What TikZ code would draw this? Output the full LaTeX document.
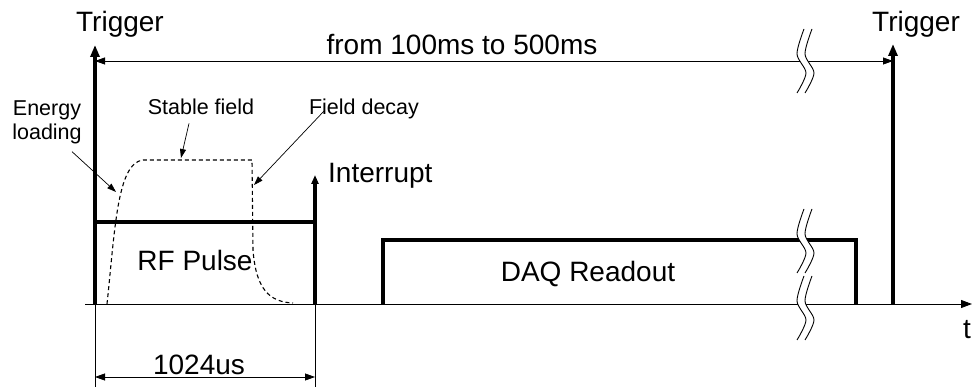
\documentclass[tikz,border=0pt]{standalone}
\usepackage{fontspec}
\setmainfont{Liberation Sans}
\usetikzlibrary{arrows.meta}
\tikzset{
 signal/.style={line width=3.2pt},
 trigger/.style={line width=3.2pt,-{Triangle[length=12pt,width=9pt]}},
 interrupt/.style={line width=3.2pt,-{Triangle[length=9pt,width=7pt]}},
 timeaxis/.style={line width=.9pt,-{Triangle[length=11pt,width=8pt]}},
 span/.style={line width=.8pt,{Triangle[length=10pt,width=7pt]}-{Triangle[length=10pt,width=7pt]}},
 extline/.style={line width=.7pt},
 callout/.style={line width=.7pt,-{Triangle[length=9pt,width=6pt]}},
 field/.style={line width=1.1pt,dash pattern=on 4pt off 3pt},
 bigtext/.style={font=\fontsize{28}{32}\selectfont,inner sep=0,anchor=base},
 smalltext/.style={font=\fontsize{21.5}{24}\selectfont,inner sep=0,anchor=base,align=center},
 breakmark/.pic={
  \draw[white,line width=7pt] plot[smooth] coordinates {(1,-32) (-6,-7) (3,12) (-6,32)};
  \draw[line width=.9pt] plot[smooth] coordinates {(-3,-32) (-10,-7) (-1,12) (-10,32)};
  \draw[line width=.9pt] plot[smooth] coordinates {(5,-32) (-2,-7) (7,12) (-2,32)};
 }
}
\begin{document}
\begin{tikzpicture}[x=1pt,y=-1pt]
\useasboundingbox (0,0) rectangle (972,387);
\coordinate (ax0) at (85,304);
\coordinate (ax1) at (972,304);
\coordinate (trig1) at (95,304);
\coordinate (trig1top) at (95,45);
\coordinate (trig2) at (893,304);
\coordinate (trig2top) at (893,44);
\coordinate (sp1) at (95,61);
\coordinate (sp2) at (893,61);
\coordinate (rf1) at (95,222);
\coordinate (rf2) at (315,222);
\coordinate (rf3) at (315,304);
\coordinate (intrtop) at (315,175);
\coordinate (daq1) at (383,304);
\coordinate (daq2) at (383,240);
\coordinate (daq3) at (856,240);
\coordinate (daq4) at (856,304);
\coordinate (dim1) at (95,377);
\coordinate (dim2) at (315,377);
\coordinate (ext1) at (95,387);
\coordinate (ext2) at (315,387);
\coordinate (loadtip) at (116,192);
\coordinate (stabletip) at (181,158);
\coordinate (decaytip) at (254,185);

\draw[timeaxis] (ax0) -- (ax1);
\draw[trigger] (trig1) -- (trig1top);
\draw[trigger] (trig2) -- (trig2top);
\draw[span] (sp1) -- (sp2);
\draw[signal] (rf1) -- (rf2);
\draw[interrupt] (rf3) -- (intrtop);
\draw[signal] (daq1) -- (daq2) -- (daq3) -- (daq4);
\draw[extline] (trig1) -- (ext1);
\draw[extline] (rf3) -- (ext2);
\draw[span] (dim1) -- (dim2);
\draw[field] (107,304) .. controls (115,230) and (117,163) .. (143,160) -- (252,160)
  -- (253,250) .. controls (256,290) and (270,302) .. (293,303);

\pic at (807,61) {breakmark};
\pic at (807,241) {breakmark};
\pic at (807,308) {breakmark};

\node[bigtext] (trigA) at (120,32) {Trigger};
\node[bigtext] (trigB) at (916,32) {Trigger};
\node[bigtext] (period) at (462,55) {from 100ms to 500ms};
\node[bigtext,anchor=base west] (intr) at (328,183) {Interrupt};
\node[bigtext] (rf) at (195,271) {RF Pulse};
\node[bigtext] (daq) at (588,282) {DAQ Readout};
\node[bigtext] (width) at (199,374) {1024us};
\node[bigtext,anchor=base west] (tlab) at (963,338) {t};
\node[smalltext] (load) at (47,140) {Energy\\loading};
\node[smalltext] (stable) at (201,115) {Stable field};
\node[smalltext] (decay) at (364,115) {Field decay};

\draw[callout] (load.south) ++(25,7) -- (loadtip);
\draw[callout] (stable.south) ++(-12,8) -- (stabletip);
\draw[callout] (decay.north west) ++(15,12) -- (decaytip);
\end{tikzpicture}
\end{document}
